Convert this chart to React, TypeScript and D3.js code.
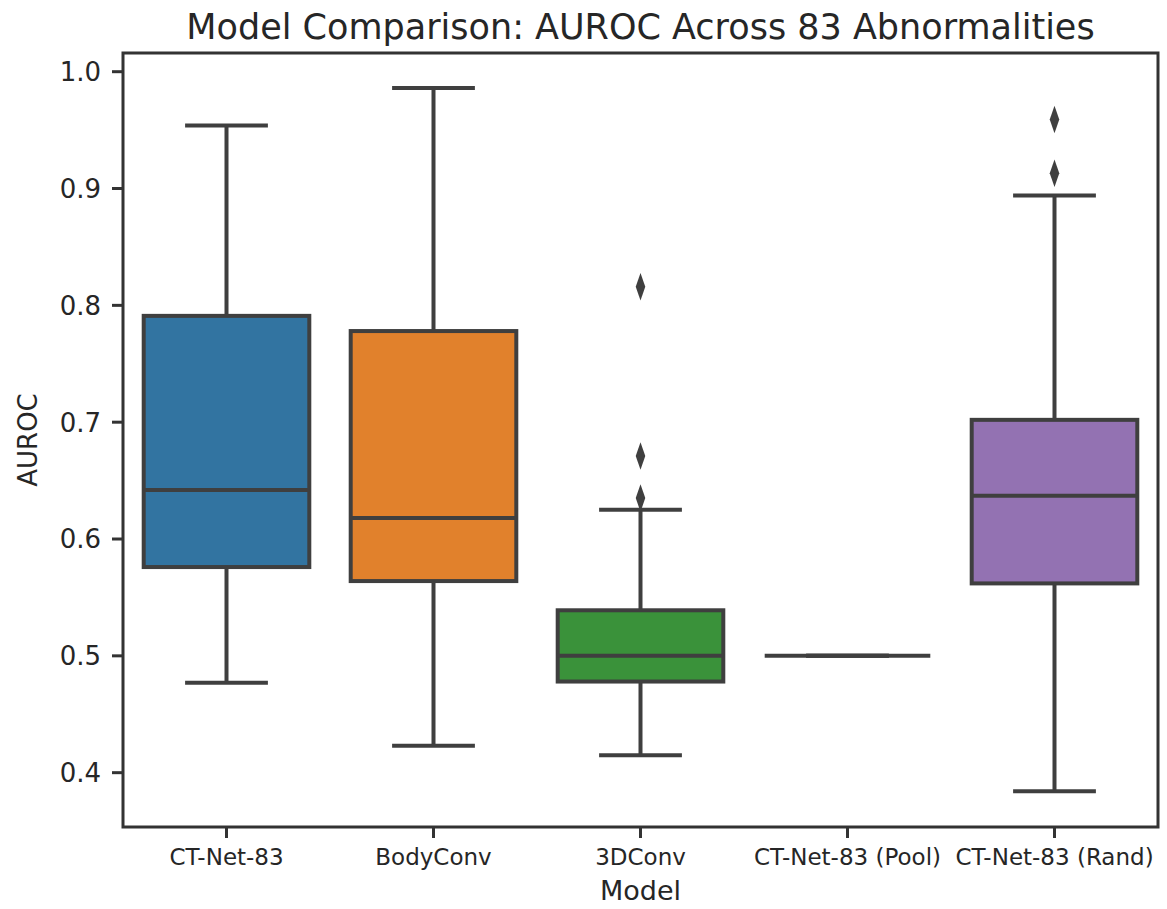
import * as d3 from 'd3';
import React from 'react';

const width = 1167;
const height = 909;
const margin = { top: 53, right: 9, bottom: 82, left: 123 };
const lineColor = '#3f3f3f';
const font = '"DejaVu Sans", sans-serif';

// box stats, one entry per model
const models = ['CT-Net-83', 'BodyConv', '3DConv', 'CT-Net-83 (Pool)', 'CT-Net-83 (Rand)'];
const whiskerLow = [0.477, 0.423, 0.415, 0.5, 0.384];
const q1 = [0.576, 0.564, 0.478, 0.5, 0.562];
const median = [0.642, 0.618, 0.5, 0.5, 0.637];
const q3 = [0.791, 0.778, 0.539, 0.5, 0.702];
const whiskerHigh = [0.954, 0.986, 0.625, 0.5, 0.894];
const outliers = [[], [], [0.816, 0.671, 0.635], [], [0.959, 0.913]];
const colors = ['#3274a1', '#e1812c', '#3a923a', '#c03d3e', '#9372b2'];
const yTicks = [0.4, 0.5, 0.6, 0.7, 0.8, 0.9, 1.0];

const xScale = d3
  .scaleBand()
  .domain(models)
  .range([margin.left, width - margin.right]);
const yScale = d3
  .scaleLinear()
  .domain([0.3535, 1.016])
  .range([height - margin.bottom, margin.top]);

const diamond = d3.symbol().type(d3.symbolDiamond).size(140)();

export default function App() {
  const boxW = xScale.bandwidth() * 0.8;
  const capW = boxW / 2;
  const bottom = height - margin.bottom;

  return (
    <svg
      width={width}
      height={height}
      style={{ position: 'absolute', left: 0, top: 0, background: '#fff' }}
      fontFamily={font}
    >
      <text x={(margin.left + width - margin.right) / 2} y={39} textAnchor="middle" fontSize={35} fill="#262626">
        Model Comparison: AUROC Across 83 Abnormalities
      </text>

      {models.map((m, i) => {
        const cx = xScale(m)! + xScale.bandwidth() / 2;
        return (
          <g key={m} stroke={lineColor} strokeWidth={4}>
            <line x1={cx} x2={cx} y1={yScale(whiskerLow[i])} y2={yScale(q1[i])} />
            <line x1={cx} x2={cx} y1={yScale(q3[i])} y2={yScale(whiskerHigh[i])} />
            <line x1={cx - capW / 2} x2={cx + capW / 2} y1={yScale(whiskerLow[i])} y2={yScale(whiskerLow[i])} />
            <line x1={cx - capW / 2} x2={cx + capW / 2} y1={yScale(whiskerHigh[i])} y2={yScale(whiskerHigh[i])} />
            <rect
              x={cx - boxW / 2}
              y={yScale(q3[i])}
              width={boxW}
              height={yScale(q1[i]) - yScale(q3[i])}
              fill={colors[i]}
            />
            <line x1={cx - boxW / 2} x2={cx + boxW / 2} y1={yScale(median[i])} y2={yScale(median[i])} />
            {outliers[i].map((v, j) => (
              <path
                key={j}
                d={diamond!}
                transform={`translate(${cx},${yScale(v)}) scale(0.75,1.25)`}
                fill={lineColor}
                stroke="none"
              />
            ))}
          </g>
        );
      })}

      {/* frame */}
      <rect
        x={margin.left}
        y={margin.top}
        width={width - margin.left - margin.right}
        height={bottom - margin.top}
        fill="none"
        stroke="#333"
        strokeWidth={3}
      />

      {/* y axis */}
      {yTicks.map(t => (
        <g key={t}>
          <line x1={margin.left - 11} x2={margin.left} y1={yScale(t)} y2={yScale(t)} stroke="#333" strokeWidth={3} />
          <text x={101} y={yScale(t)} dy="0.36em" textAnchor="end" fontSize={26} fill="#262626">
            {t.toFixed(1)}
          </text>
        </g>
      ))}
      <text
        transform={`translate(37,${(margin.top + bottom) / 2}) rotate(-90)`}
        textAnchor="middle"
        fontSize={26}
        fill="#262626"
      >
        AUROC
      </text>

      {/* x axis */}
      {models.map(m => {
        const cx = xScale(m)! + xScale.bandwidth() / 2;
        return (
          <g key={m}>
            <line x1={cx} x2={cx} y1={bottom} y2={bottom + 11} stroke="#333" strokeWidth={3} />
            <text x={cx} y={865} textAnchor="middle" fontSize={23} fill="#262626">
              {m}
            </text>
          </g>
        );
      })}
      <text x={(margin.left + width - margin.right) / 2} y={900} textAnchor="middle" fontSize={27} fill="#262626">
        Model
      </text>
    </svg>
  );
}
